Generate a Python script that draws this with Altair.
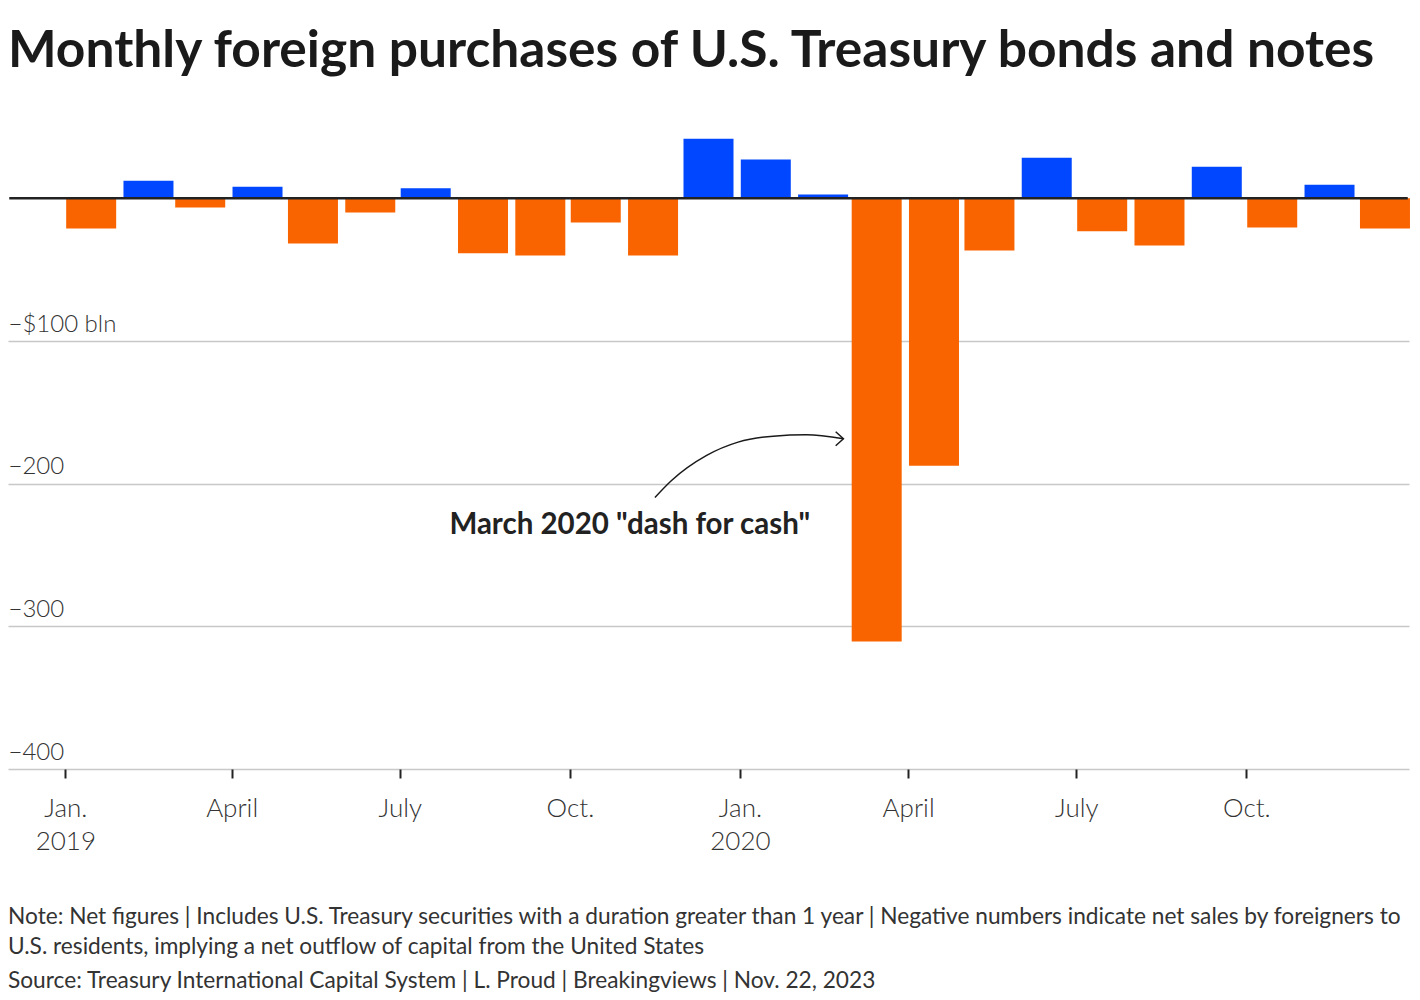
import altair as alt
import pandas as pd

# ---- data ----
months = ["2019-01", "2019-02", "2019-03", "2019-04", "2019-05", "2019-06",
          "2019-07", "2019-08", "2019-09", "2019-10", "2019-11", "2019-12",
          "2020-01", "2020-02", "2020-03", "2020-04", "2020-05", "2020-06",
          "2020-07", "2020-08", "2020-09", "2020-10", "2020-11", "2020-12"]
values = [-21.2, 12.4, -6.5, 8.2, -31.7, -10.0, 7.0, -38.5, -40.0, -17.0, -40.0, 41.7,
          27.3, 2.6, -310.7, -187.4, -36.5, 28.5, -23.0, -33.0, 22.2, -20.5, 9.6, -21.2]

y_ticks = [-400, -300, -200, -100]
x_tick_months = [(2019, 1), (2019, 4), (2019, 7), (2019, 10),
                 (2020, 1), (2020, 4), (2020, 7), (2020, 10)]

annotation_text = ['March 2020 "dash for cash"']
annotation_date = ["2020-02-08T00:00:00"]
annotation_value = [-235]

arrow_dates = ["2019-11-16", "2019-11-25", "2019-12-14", "2019-12-31",
               "2020-01-19", "2020-02-06", "2020-02-26"]
arrow_values = [-209.7, -197.8, -180.2, -170.9, -166.7, -165.7, -168.5]

title = "Monthly foreign purchases of U.S. Treasury bonds and notes"
note_1 = ("Note: Net figures | Includes U.S. Treasury securities with a duration greater "
          "than 1 year | Negative numbers indicate net sales by foreigners to")
note_2 = "U.S. residents, implying a net outflow of capital from the United States"
source = "Source: Treasury International Capital System | L. Proud | Breakingviews | Nov. 22, 2023"

ORANGE = "#F96400"
BLUE = "#0047FF"
FONT = "Lato"
W, H = 1401, 642

bars_df = pd.DataFrame({"date": [m + "-15T00:00:00" for m in months], "value": values})
arrow_df = pd.DataFrame({"date": [d + "T00:00:00" for d in arrow_dates],
                         "value": arrow_values, "order": list(range(len(arrow_dates)))})
ann_df = pd.DataFrame({"date": annotation_date, "value": annotation_value, "t": annotation_text})
head_df = arrow_df.iloc[[-1]]
zero_df = pd.DataFrame({"value": [0]})

x_scale = alt.Scale(domain=[alt.DateTime(year=2018, month=12, date=1),
                            alt.DateTime(year=2020, month=12, date=28)],
                    nice=False, padding=0)
y_scale = alt.Scale(domain=[-400, 50], nice=False, zero=False)

x_axis = alt.Axis(
    title=None,
    values=[alt.DateTime(year=y, month=m, date=1) for y, m in x_tick_months],
    labelExpr=("month(datum.value)==0 ? ['Jan.', '' + year(datum.value)] : "
               "month(datum.value)==3 ? 'April' : month(datum.value)==6 ? 'July' : 'Oct.'"),
    domain=False, grid=False, ticks=True, tickSize=9, tickWidth=2, tickColor="#222222",
    labelFont=FONT, labelFontSize=26, labelFontWeight=300, labelColor="#333333",
    labelPadding=30, labelLineHeight=33, labelBaseline="middle",
)
y_axis = alt.Axis(
    title=None, values=y_ticks,
    labelExpr="datum.value == -100 ? '\u2212$100 bln' : '\u2212' + abs(datum.value)",
    domain=False, ticks=False, tickSize=0, grid=True, gridColor="#c8c8c8", gridWidth=1.5,
    labelAlign="left", labelBaseline="alphabetic", labelOffset=-10, labelPadding=0,
    labelFont=FONT, labelFontSize=24, labelFontWeight=300, labelColor="#333333",
)

bars = alt.Chart(bars_df).mark_bar(width=50).encode(
    x=alt.X("date:T", scale=x_scale, axis=x_axis),
    y=alt.Y("value:Q", scale=y_scale, axis=y_axis),
    color=alt.condition("datum.value >= 0", alt.value(BLUE), alt.value(ORANGE)),
)

zero = alt.Chart(zero_df).mark_rule(color="#222222", strokeWidth=2.5).encode(
    y=alt.Y("value:Q", scale=y_scale),
    x=alt.value(1.25), x2=alt.value(W - 1.25),
)

arrow = alt.Chart(arrow_df).mark_line(
    color="#1a1a1a", strokeWidth=1.5, interpolate="monotone"
).encode(
    x=alt.X("date:T", scale=x_scale),
    y=alt.Y("value:Q", scale=y_scale),
    order="order:Q",
)

head = alt.Chart(head_df).mark_point(
    shape="M-1,-0.9L0,0L-1,0.9", filled=False, stroke="#1a1a1a", strokeWidth=1.5,
    size=240, opacity=1,
).encode(
    x=alt.X("date:T", scale=x_scale),
    y=alt.Y("value:Q", scale=y_scale),
)

ann = alt.Chart(ann_df).mark_text(
    align="right", baseline="alphabetic", font=FONT, fontSize=29.5, fontWeight="bold",
    color="#222222",
).encode(
    x=alt.X("date:T", scale=x_scale),
    y=alt.Y("value:Q", scale=y_scale),
    text="t:N",
)

def footer(txt, ypx):
    return alt.Chart(pd.DataFrame({"t": [txt]})).mark_text(
        align="left", baseline="alphabetic", font=FONT, fontSize=22.7, color="#333333",
    ).encode(text="t:N", x=alt.value(0), y=alt.value(ypx))

chart = alt.layer(
    bars, zero, arrow, head, ann,
    footer(note_1, 797), footer(note_2, 827), footer(source, 861),
).properties(
    width=W, height=H,
    title=alt.Title(title, anchor="start", font=FONT, fontSize=51.5, fontWeight="bold",
                    color="#1a1a1a", offset=50),
    padding={"left": 0, "right": 0, "top": 17, "bottom": 0},
).configure_view(stroke=None)

chart.save("out.html", embed_options={"renderer": "svg", "actions": False})
